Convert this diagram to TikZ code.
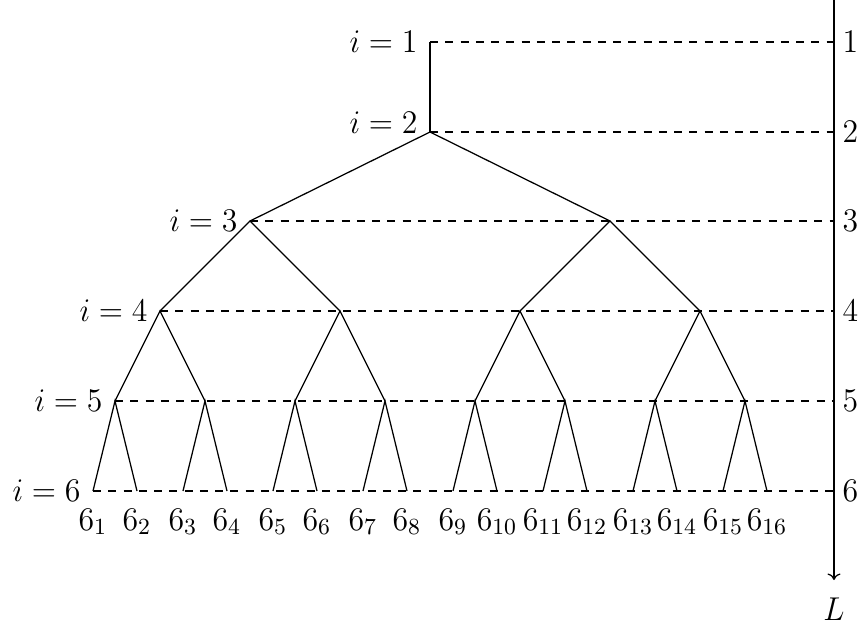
\RequirePackage{fix-cm}
\documentclass[tikz,border=0pt]{standalone}
\usepackage{graphicx}
\usetikzlibrary{arrows.meta}
\newcommand\stretchtxt[1]{\scalebox{1}[1.04]{$#1$}}
\begin{document}
\begin{tikzpicture}[x=0.4pt,y=-0.4pt,
  edge/.style={line width=0.5pt},
  guide/.style={line width=0.5pt, dash pattern=on 3.2pt off 2.9pt},
  axisline/.style={line width=0.5pt, -{To[length=2.6pt,width=5.2pt]}},
  lab/.style={inner sep=0pt, font=\fontsize{12.7}{15.2}\selectfont}]
\useasboundingbox (0,0) rectangle (862,628);
% tree nodes
\coordinate (n1) at (430,42);
\coordinate (n2) at (430,132);
\coordinate (n3-1) at (250,221);
\coordinate (n3-2) at (610,221);
\foreach \k in {1,...,4} \coordinate (n4-\k) at ({160+180*(\k-1)},311);
\foreach \k in {1,...,8} \coordinate (n5-\k) at ({115+90*(\k-1)},401);
\foreach \k [evaluate=\k as \a using int(2*\k-1), evaluate=\k as \b using int(2*\k)] in {1,...,8} {
  \coordinate (n6-\a) at ({115+90*(\k-1)-22},491);
  \coordinate (n6-\b) at ({115+90*(\k-1)+22},491);
}
% axis points
\foreach \i/\y in {1/42,2/132,3/221,4/311,5/401,6/491} \coordinate (ax\i) at (834,\y);
\coordinate (atop) at (834,0);
\coordinate (abot) at (834,580);
% dashed guides
\draw[guide] (n1) -- (ax1);
\draw[guide] (n2) -- (ax2);
\draw[guide] (n3-1) -- (ax3);
\draw[guide] (n4-1) -- (ax4);
\draw[guide] (n5-1) -- (ax5);
\draw[guide] (n6-1) -- (ax6);
% tree edges
\draw[edge] (n1) -- (n2);
\draw[edge] (n3-1) -- (n2) -- (n3-2);
\foreach \k [evaluate=\k as \a using int(2*\k-1), evaluate=\k as \b using int(2*\k)] in {1,2}
  \draw[edge] (n4-\a) -- (n3-\k) -- (n4-\b);
\foreach \k [evaluate=\k as \a using int(2*\k-1), evaluate=\k as \b using int(2*\k)] in {1,...,4}
  \draw[edge] (n5-\a) -- (n4-\k) -- (n5-\b);
\foreach \k [evaluate=\k as \a using int(2*\k-1), evaluate=\k as \b using int(2*\k)] in {1,...,8}
  \draw[edge] (n6-\a) -- (n5-\k) -- (n6-\b);
% axis
\draw[axisline] (atop) -- (abot);
\node[lab, anchor=base] (Lab) at (834,620) {\stretchtxt{L}};
% left labels
\node[lab, anchor=base east] (li1) at (418,52) {\stretchtxt{i=1}};
\node[lab, anchor=base east] (li2) at (418,133) {\stretchtxt{i=2}};
\node[lab, anchor=base east] (li3) at (238,231) {\stretchtxt{i=3}};
\node[lab, anchor=base east] (li4) at (148,321) {\stretchtxt{i=4}};
\node[lab, anchor=base east] (li5) at (103,411) {\stretchtxt{i=5}};
\node[lab, anchor=base east] (li6) at (81,501) {\stretchtxt{i=6}};
% right labels
\foreach \i/\y in {1/52,2/142,3/231,4/321,5/411,6/501}
  \node[lab, anchor=base west] (ri\i) at (842,\y) {\stretchtxt{\i}};
% leaf labels
\foreach \k [evaluate=\k as \a using int(2*\k-1), evaluate=\k as \b using int(2*\k)] in {1,...,8} {
  \node[lab, anchor=base] (t\a) at ({115+90*(\k-1)-22},530) {\stretchtxt{6_{\a}}};
  \node[lab, anchor=base] (t\b) at ({115+90*(\k-1)+22},530) {\stretchtxt{6_{\b}}};
}
\end{tikzpicture}
\end{document}
